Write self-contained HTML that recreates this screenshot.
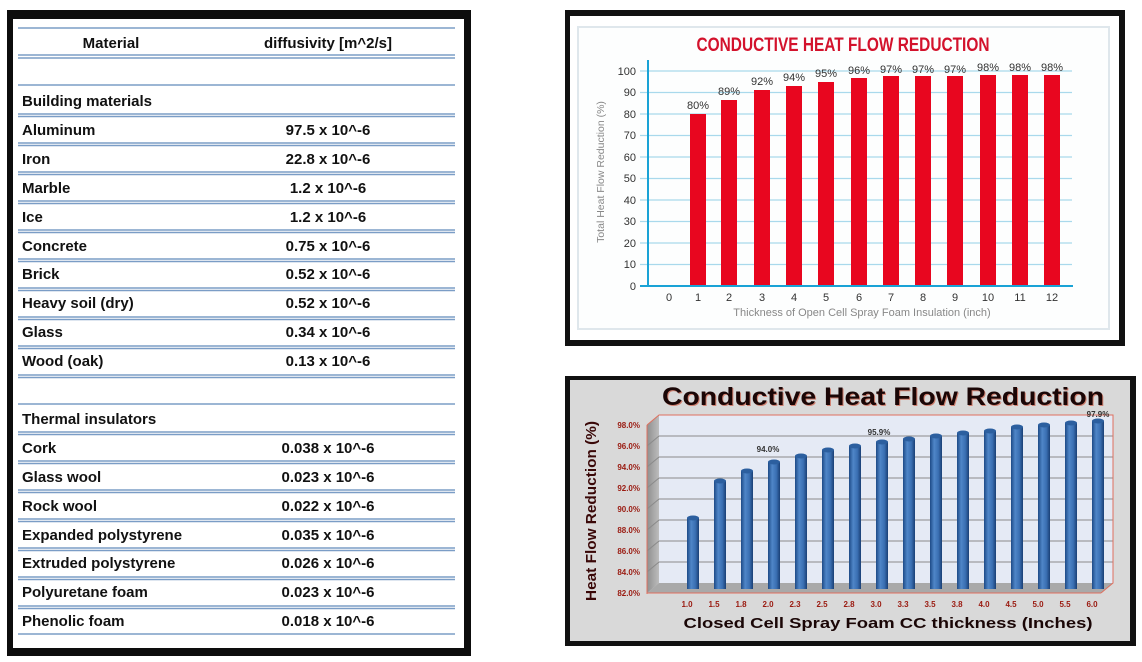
<!DOCTYPE html>
<html><head><meta charset="utf-8"><style>
html,body{margin:0;padding:0;background:#fff;}
svg{display:block;font-family:"Liberation Sans",sans-serif;}
</style></head><body>
<svg width="1142" height="662" viewBox="0 0 1142 662" xmlns="http://www.w3.org/2000/svg">
<defs>
<linearGradient id="cyl" x1="0" x2="1" y1="0" y2="0">
<stop offset="0" stop-color="#1d4a86"/><stop offset="0.35" stop-color="#4f86c8"/><stop offset="0.7" stop-color="#3a6fb2"/><stop offset="1" stop-color="#1a3f75"/>
</linearGradient>
<linearGradient id="side" x1="0" x2="1"><stop offset="0" stop-color="#8e8e8e"/><stop offset="1" stop-color="#bdbdbd"/></linearGradient>
</defs>
<rect width="1142" height="662" fill="#fff"/>

<!-- LEFT TABLE -->
<rect x="7" y="10" width="464" height="646" fill="#0d0d0d"/>
<rect x="13" y="19" width="451" height="629" fill="#fff"/>
<g stroke="#7b9dc6" stroke-width="1.6">
<line x1="18" x2="455" y1="28" y2="28"/>
<line x1="18" x2="455" y1="55" y2="55"/><line x1="18" x2="455" y1="58" y2="58"/>
<line x1="18" x2="455" y1="85" y2="85"/>
<line x1="18" x2="455" y1="114" y2="114"/><line x1="18" x2="455" y1="116.5" y2="116.5"/>
<line x1="18" x2="455" y1="143" y2="143"/><line x1="18" x2="455" y1="145.5" y2="145.5"/>
<line x1="18" x2="455" y1="172" y2="172"/><line x1="18" x2="455" y1="174.5" y2="174.5"/>
<line x1="18" x2="455" y1="201" y2="201"/><line x1="18" x2="455" y1="203.5" y2="203.5"/>
<line x1="18" x2="455" y1="230" y2="230"/><line x1="18" x2="455" y1="232.5" y2="232.5"/>
<line x1="18" x2="455" y1="259" y2="259"/><line x1="18" x2="455" y1="261.5" y2="261.5"/>
<line x1="18" x2="455" y1="288" y2="288"/><line x1="18" x2="455" y1="290.5" y2="290.5"/>
<line x1="18" x2="455" y1="317" y2="317"/><line x1="18" x2="455" y1="319.5" y2="319.5"/>
<line x1="18" x2="455" y1="346" y2="346"/><line x1="18" x2="455" y1="348.5" y2="348.5"/>
<line x1="18" x2="455" y1="375" y2="375"/><line x1="18" x2="455" y1="377.5" y2="377.5"/>
<line x1="18" x2="455" y1="404" y2="404"/>
<line x1="18" x2="455" y1="432" y2="432"/><line x1="18" x2="455" y1="434.5" y2="434.5"/>
<line x1="18" x2="455" y1="461" y2="461"/><line x1="18" x2="455" y1="463.5" y2="463.5"/>
<line x1="18" x2="455" y1="490" y2="490"/><line x1="18" x2="455" y1="492.5" y2="492.5"/>
<line x1="18" x2="455" y1="519" y2="519"/><line x1="18" x2="455" y1="521.5" y2="521.5"/>
<line x1="18" x2="455" y1="548" y2="548"/><line x1="18" x2="455" y1="550.5" y2="550.5"/>
<line x1="18" x2="455" y1="577" y2="577"/><line x1="18" x2="455" y1="579.5" y2="579.5"/>
<line x1="18" x2="455" y1="606" y2="606"/><line x1="18" x2="455" y1="608.5" y2="608.5"/>
<line x1="18" x2="455" y1="634" y2="634"/>
</g>
<g font-size="15" font-weight="bold" fill="#111">
<text x="111" y="48" text-anchor="middle">Material</text>
<text x="328" y="48" text-anchor="middle">diffusivity [m^2/s]</text>
<text x="22" y="106">Building materials</text>
<text x="22" y="135">Aluminum</text>
<text x="22" y="164">Iron</text>
<text x="22" y="193">Marble</text>
<text x="22" y="222">Ice</text>
<text x="22" y="251">Concrete</text>
<text x="22" y="279">Brick</text>
<text x="22" y="308">Heavy soil (dry)</text>
<text x="22" y="337">Glass</text>
<text x="22" y="366">Wood (oak)</text>
<text x="22" y="424">Thermal insulators</text>
<text x="22" y="453">Cork</text>
<text x="22" y="482">Glass wool</text>
<text x="22" y="511">Rock wool</text>
<text x="22" y="540">Expanded polystyrene</text>
<text x="22" y="568">Extruded polystyrene</text>
<text x="22" y="597">Polyuretane foam</text>
<text x="22" y="626">Phenolic foam</text>
</g>
<g font-size="15" font-weight="bold" fill="#111" text-anchor="middle">
<text x="328" y="135">97.5 x 10^-6</text>
<text x="328" y="164">22.8 x 10^-6</text>
<text x="328" y="193">1.2 x 10^-6</text>
<text x="328" y="222">1.2 x 10^-6</text>
<text x="328" y="251">0.75 x 10^-6</text>
<text x="328" y="279">0.52 x 10^-6</text>
<text x="328" y="308">0.52 x 10^-6</text>
<text x="328" y="337">0.34 x 10^-6</text>
<text x="328" y="366">0.13 x 10^-6</text>
<text x="328" y="453">0.038 x 10^-6</text>
<text x="328" y="482">0.023 x 10^-6</text>
<text x="328" y="511">0.022 x 10^-6</text>
<text x="328" y="540">0.035 x 10^-6</text>
<text x="328" y="568">0.026 x 10^-6</text>
<text x="328" y="597">0.023 x 10^-6</text>
<text x="328" y="626">0.018 x 10^-6</text>
</g>

<!-- TOP RIGHT CHART -->
<rect x="565" y="10" width="560" height="336" fill="#111"/>
<rect x="570" y="16" width="549" height="324" fill="#fff"/>
<rect x="578" y="27" width="531" height="302" fill="#fdfefe" stroke="#dfe7ec" stroke-width="2"/>
<text x="843" y="51" text-anchor="middle" font-size="19" font-weight="bold" fill="#d3122c" textLength="293" lengthAdjust="spacingAndGlyphs">CONDUCTIVE HEAT FLOW REDUCTION</text>
<g stroke="#a9d9ec" stroke-width="1.2">
<line x1="640" x2="1072" y1="71" y2="71"/><line x1="640" x2="1072" y1="92.5" y2="92.5"/>
<line x1="640" x2="1072" y1="114" y2="114"/><line x1="640" x2="1072" y1="135.5" y2="135.5"/>
<line x1="640" x2="1072" y1="157" y2="157"/><line x1="640" x2="1072" y1="178.5" y2="178.5"/>
<line x1="640" x2="1072" y1="200" y2="200"/><line x1="640" x2="1072" y1="221.5" y2="221.5"/>
<line x1="640" x2="1072" y1="243" y2="243"/><line x1="640" x2="1072" y1="264.5" y2="264.5"/>
</g>
<g fill="#e8061f">
<rect x="690" y="114" width="16" height="172"/>
<rect x="721" y="100" width="16" height="186"/>
<rect x="754" y="90" width="16" height="196"/>
<rect x="786" y="86" width="16" height="200"/>
<rect x="818" y="82" width="16" height="204"/>
<rect x="851" y="78" width="16" height="208"/>
<rect x="883" y="76" width="16" height="210"/>
<rect x="915" y="76" width="16" height="210"/>
<rect x="947" y="76" width="16" height="210"/>
<rect x="980" y="75" width="16" height="211"/>
<rect x="1012" y="75" width="16" height="211"/>
<rect x="1044" y="75" width="16" height="211"/>
</g>
<line x1="648" x2="648" y1="60" y2="287" stroke="#1aa3d6" stroke-width="2"/>
<line x1="640" x2="1073" y1="286" y2="286" stroke="#1aa3d6" stroke-width="2"/>
<g font-size="11" fill="#333" text-anchor="middle">
<text x="698" y="109">80%</text><text x="729" y="95">89%</text><text x="762" y="85">92%</text>
<text x="794" y="81">94%</text><text x="826" y="77">95%</text><text x="859" y="74">96%</text>
<text x="891" y="73">97%</text><text x="923" y="73">97%</text><text x="955" y="73">97%</text>
<text x="988" y="71">98%</text><text x="1020" y="71">98%</text><text x="1052" y="71">98%</text>
</g>
<g font-size="11" fill="#333" text-anchor="end">
<text x="636" y="75">100</text><text x="636" y="96">90</text><text x="636" y="118">80</text>
<text x="636" y="139">70</text><text x="636" y="161">60</text><text x="636" y="182">50</text>
<text x="636" y="204">40</text><text x="636" y="225">30</text><text x="636" y="247">20</text>
<text x="636" y="268">10</text><text x="636" y="290">0</text>
</g>
<g font-size="11" fill="#333" text-anchor="middle">
<text x="669" y="301">0</text><text x="698" y="301">1</text><text x="729" y="301">2</text>
<text x="762" y="301">3</text><text x="794" y="301">4</text><text x="826" y="301">5</text>
<text x="859" y="301">6</text><text x="891" y="301">7</text><text x="923" y="301">8</text>
<text x="955" y="301">9</text><text x="988" y="301">10</text><text x="1020" y="301">11</text>
<text x="1052" y="301">12</text>
</g>
<text x="862" y="316" text-anchor="middle" font-size="11" fill="#888">Thickness of Open Cell Spray Foam Insulation (inch)</text>
<text transform="translate(604,172) rotate(-90)" text-anchor="middle" font-size="10.5" fill="#888">Total Heat Flow Reduction (%)</text>

<!-- BOTTOM RIGHT CHART -->
<rect x="565" y="376" width="571" height="270" fill="#111"/>
<rect x="570" y="380" width="560" height="261" fill="#d9d9d9"/>
<text x="883" y="405" text-anchor="middle" font-size="25" font-weight="bold" fill="#d08070" textLength="442" lengthAdjust="spacingAndGlyphs" dx="1" dy="1">Conductive Heat Flow Reduction</text>
<text x="883" y="405" text-anchor="middle" font-size="25" font-weight="bold" fill="#1a0606" textLength="442" lengthAdjust="spacingAndGlyphs">Conductive Heat Flow Reduction</text>
<!-- walls -->
<polygon points="659,415 1113,415 1113,583 659,583" fill="#e5eaf5"/>
<polygon points="647,425 659,415 659,583 647,593" fill="url(#side)"/>
<polygon points="647,593 659,583 1113,583 1101,593" fill="#a9a9a9"/>
<g stroke="#8a8a8a" stroke-width="1">
<line x1="659" x2="1113" y1="436" y2="436"/><line x1="659" x2="1113" y1="457" y2="457"/>
<line x1="659" x2="1113" y1="478" y2="478"/><line x1="659" x2="1113" y1="499" y2="499"/>
<line x1="659" x2="1113" y1="520" y2="520"/><line x1="659" x2="1113" y1="541" y2="541"/>
<line x1="659" x2="1113" y1="562" y2="562"/>
<line x1="647" x2="659" y1="446" y2="436"/><line x1="647" x2="659" y1="467" y2="457"/>
<line x1="647" x2="659" y1="488" y2="478"/><line x1="647" x2="659" y1="509" y2="499"/>
<line x1="647" x2="659" y1="530" y2="520"/><line x1="647" x2="659" y1="551" y2="541"/>
<line x1="647" x2="659" y1="572" y2="562"/>
</g>
<g stroke="#e0705e" stroke-width="1" fill="none">
<polyline points="647,425 659,415 1113,415 1113,583 1101,593"/>
<line x1="647" x2="647" y1="425" y2="594"/>
<line x1="647" x2="1101" y1="593" y2="593"/>
</g>
<!-- cylinders -->
<g fill="url(#cyl)">
<rect x="687" y="518" width="12" height="71"/>
<rect x="714" y="481" width="12" height="108"/>
<rect x="741" y="471" width="12" height="118"/>
<rect x="768" y="462" width="12" height="127"/>
<rect x="795" y="456" width="12" height="133"/>
<rect x="822" y="450" width="12" height="139"/>
<rect x="849" y="446" width="12" height="143"/>
<rect x="876" y="442" width="12" height="147"/>
<rect x="903" y="439" width="12" height="150"/>
<rect x="930" y="436" width="12" height="153"/>
<rect x="957" y="433" width="12" height="156"/>
<rect x="984" y="431" width="12" height="158"/>
<rect x="1011" y="427" width="12" height="162"/>
<rect x="1038" y="425" width="12" height="164"/>
<rect x="1065" y="423" width="12" height="166"/>
<rect x="1092" y="421" width="12" height="168"/>
</g>
<g fill="#2c5f9f">
<ellipse cx="693" cy="518" rx="6" ry="2.5"/><ellipse cx="720" cy="481" rx="6" ry="2.5"/>
<ellipse cx="747" cy="471" rx="6" ry="2.5"/><ellipse cx="774" cy="462" rx="6" ry="2.5"/>
<ellipse cx="801" cy="456" rx="6" ry="2.5"/><ellipse cx="828" cy="450" rx="6" ry="2.5"/>
<ellipse cx="855" cy="446" rx="6" ry="2.5"/><ellipse cx="882" cy="442" rx="6" ry="2.5"/>
<ellipse cx="909" cy="439" rx="6" ry="2.5"/><ellipse cx="936" cy="436" rx="6" ry="2.5"/>
<ellipse cx="963" cy="433" rx="6" ry="2.5"/><ellipse cx="990" cy="431" rx="6" ry="2.5"/>
<ellipse cx="1017" cy="427" rx="6" ry="2.5"/><ellipse cx="1044" cy="425" rx="6" ry="2.5"/>
<ellipse cx="1071" cy="423" rx="6" ry="2.5"/><ellipse cx="1098" cy="421" rx="6" ry="2.5"/>
</g>
<g font-size="8" font-weight="bold" fill="#333" text-anchor="middle">
<text x="768" y="452">94.0%</text><text x="879" y="435">95.9%</text><text x="1098" y="417">97.9%</text>
</g>
<g font-size="8" font-weight="bold" fill="#9a1a10" text-anchor="end">
<text x="640" y="428">98.0%</text><text x="640" y="449">96.0%</text><text x="640" y="470">94.0%</text>
<text x="640" y="491">92.0%</text><text x="640" y="512">90.0%</text><text x="640" y="533">88.0%</text>
<text x="640" y="554">86.0%</text><text x="640" y="575">84.0%</text><text x="640" y="596">82.0%</text>
</g>
<g font-size="8" font-weight="bold" fill="#9a1a10" text-anchor="middle">
<text x="687" y="607">1.0</text><text x="714" y="607">1.5</text><text x="741" y="607">1.8</text>
<text x="768" y="607">2.0</text><text x="795" y="607">2.3</text><text x="822" y="607">2.5</text>
<text x="849" y="607">2.8</text><text x="876" y="607">3.0</text><text x="903" y="607">3.3</text>
<text x="930" y="607">3.5</text><text x="957" y="607">3.8</text><text x="984" y="607">4.0</text>
<text x="1011" y="607">4.5</text><text x="1038" y="607">5.0</text><text x="1065" y="607">5.5</text>
<text x="1092" y="607">6.0</text>
</g>
<text x="888" y="628" text-anchor="middle" font-size="14.5" font-weight="bold" fill="#1a0606" textLength="409" lengthAdjust="spacingAndGlyphs">Closed Cell Spray Foam CC thickness (Inches)</text>
<text transform="translate(596,511) rotate(-90)" text-anchor="middle" font-size="15" font-weight="bold" fill="#3a0808" textLength="180" lengthAdjust="spacingAndGlyphs">Heat Flow Reduction (%)</text>
</svg>
</body></html>
